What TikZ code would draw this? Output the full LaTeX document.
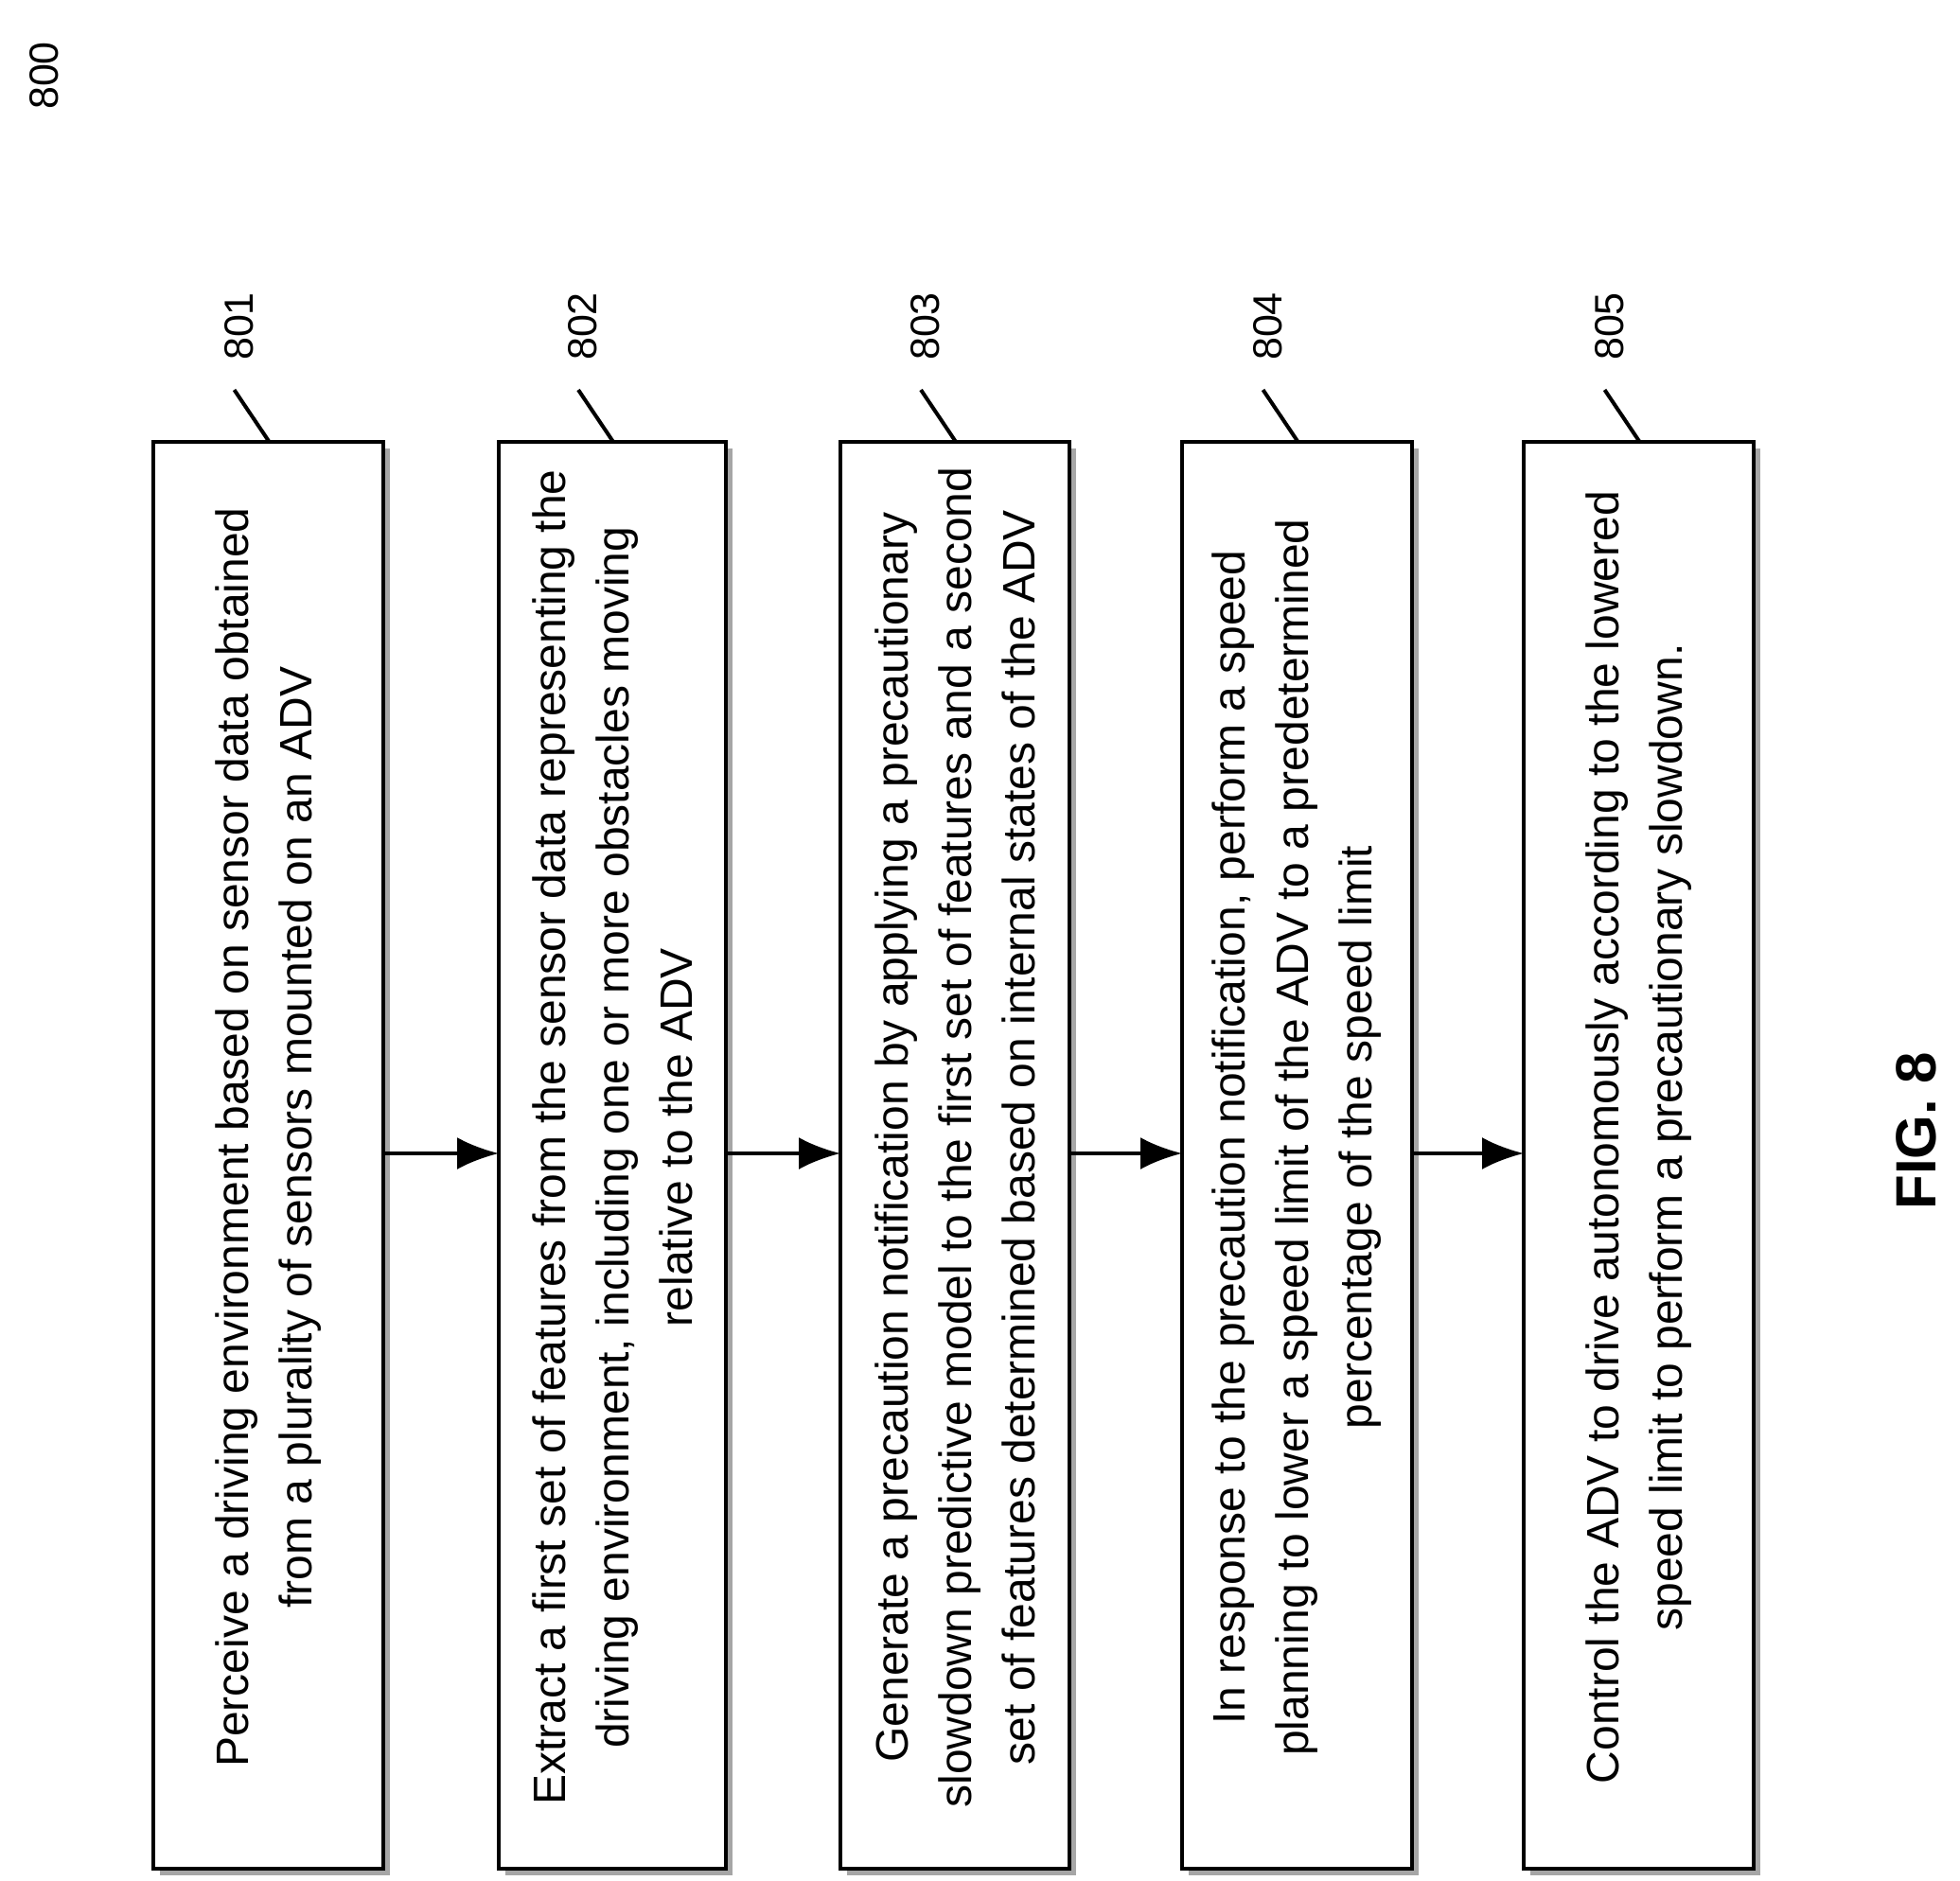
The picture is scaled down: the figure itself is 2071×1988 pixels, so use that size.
\documentclass[tikz,border=0pt]{standalone}
\usepackage{fontspec}
\setmainfont{Liberation Sans}
\usetikzlibrary{arrows.meta}
\begin{document}
\begin{tikzpicture}[x=1pt,y=-1pt,
  box/.style={draw=black,line width=4pt,fill=white},
  shadow/.style={fill=black!35},
  txt/.style={rotate=90,align=center,font=\fontsize{48}{67}\selectfont},
  lab/.style={rotate=90,font=\fontsize{43}{48}\selectfont},
  arr/.style={line width=4pt,-{Latex[length=44pt,width=34pt]}}]
\useasboundingbox (0,0) rectangle (2071,1988);
\node[lab] (n800) at (47,80) {800};
\node[rotate=90,font=\bfseries\fontsize{60}{70}\selectfont] (fig) at (2025,1195) {FIG. 8};
\foreach \i/\xl/\xr in {1/162/405,2/527/767,3/888/1130,4/1249/1492,5/1610/1853}{
  \fill[shadow] (\xl+7,474) rectangle (\xr+7,1982);
  \draw[box] (\xl,467) rectangle (\xr,1975);
  \coordinate (b\i) at ({(\xl+\xr)/2},1202);
  \coordinate (L\i) at (\xl,1219);
  \coordinate (R\i) at (\xr,1219);
  \coordinate (t\i) at ({(\xl+\xr)/2+1},467);
  \node[lab] (l\i) at ({(\xl+\xr)/2-31},345) {80\i};
  \draw[line width=4pt] (t\i) -- ({(\xl+\xr)/2-36},412);
}
\node[txt] (s1) at (b1) {Perceive a driving environment based on sensor data obtained\\from a plurality of sensors mounted on an ADV};
\node[txt] (s2) at (b2) {Extract a first set of features from the sensor data representing the\\driving environment, including one or more obstacles moving\\relative to the ADV};
\node[txt] (s3) at (b3) {Generate a precaution notification by applying a precautionary\\slowdown predictive model to the first set of features and a second\\set of features determined based on internal states of the ADV};
\node[txt] (s4) at (b4) {In response to the precaution notification, perform a speed\\planning to lower a speed limit of the ADV to a predetermined\\percentage of the speed limit};
\node[txt] (s5) at (b5) {Control the ADV to drive autonomously according to the lowered\\speed limit to perform a precautionary slowdown.};
\draw[arr] (R1) -- (L2);
\draw[arr] (R2) -- (L3);
\draw[arr] (R3) -- (L4);
\draw[arr] (R4) -- (L5);
\end{tikzpicture}
\end{document}
